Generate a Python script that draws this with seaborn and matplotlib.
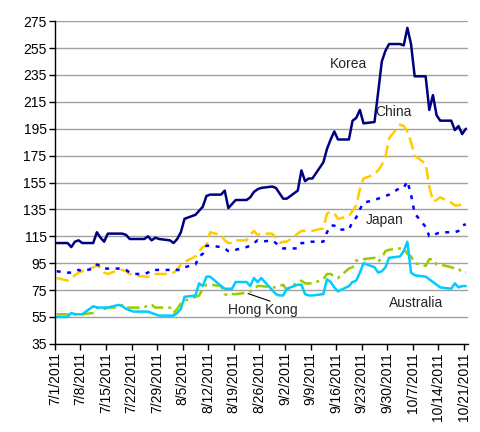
import numpy as np
import pandas as pd
import matplotlib
matplotlib.use("Agg")
import matplotlib.pyplot as plt
import seaborn as sns

# business days 7/1/2011 .. 10/21/2011, one row per week below
dates = pd.bdate_range("2011-07-01", "2011-10-21")
tick_dates = pd.date_range("2011-07-01", "2011-10-21", freq="7D")
tick_labels = [f"{d.month}/{d.day}/{d.year}" for d in tick_dates]

korea = [110,
         110, 107, 111, 112, 110,
         110, 118, 114, 111, 117,
         117, 117, 116, 113, 113,
         113, 115, 112, 114, 113,
         112, 110, 113, 118, 128,
         131, 134, 137, 145, 146,
         146, 149, 136, 139, 142,
         142, 144, 148, 150, 151,
         152, 151, 147, 143, 143,
         149, 164, 156, 158, 158,
         170, 180, 187, 193, 187,
         187, 201, 203, 209, 199,
         200, 222, 245, 253, 258,
         258, 257, 270, 258, 234,
         234, 209, 220, 205, 201,
         201, 194, 197, 191, 195]

china = [84,
         82, 84, 86, 88, 89,
         92, 93, 92, 88, 87,
         90, 90, 89, 87, 86,
         85, 85, 86, 87, 87,
         87, 88, 90, 94, 96,
         100, 104, 107, 108, 118,
         116, 112, 110, 110, 112,
         112, 116, 119, 116, 117,
         117, 114, 110, 111, 111,
         117, 119, 119, 119, 119,
         121, 132, 133, 132, 128,
         130, 134, 138, 150, 158,
         161, 164, 168, 174, 188,
         198, 197, 193, 185, 175,
         169, 152, 141, 142, 144,
         140, 138, 138, 139, 140]

japan = [89,
         88, 88, 89, 90, 89,
         91, 94, 93, 91, 91,
         91, 91, 90, 88, 87,
         87, 88, 90, 90, 90,
         90, 91, 90, 90, 92,
         94, 100, 102, 108, 108,
         107, 106, 104, 105, 105,
         107, 108, 110, 112, 111,
         112, 110, 107, 106, 106,
         106, 110, 110, 111, 111,
         111, 118, 123, 123, 120,
         120, 126, 129, 135, 140,
         142, 143, 144, 145, 146,
         151, 151, 156, 146, 132,
         122, 115, 115, 117, 118,
         118, 118, 119, 123, 124]

hong_kong = [57,
             57, 56, 57, 58, 57,
             58, 62, 61, 61, 62,
             62, 64, 62, 62, 62,
             62, 64, 64, 62, 62,
             62, 58, 61, 65, 67,
             70, 71, 76, 79, 79,
             78, 72, 71, 72, 72,
             73, 74, 76, 78, 78,
             77, 77, 78, 79, 75,
             81, 82, 80, 80, 80,
             83, 87, 87, 85, 84,
             91, 92, 97, 97, 98,
             99, 96, 99, 104, 105,
             106, 106, 102, 100, 95,
             93, 98, 98, 94, 94,
             92, 91, 91, 88, 88]

australia = [55,
             55, 58, 57, 57, 57,
             63, 62, 62, 62, 62,
             64, 63, 61, 60, 59,
             59, 59, 58, 57, 56,
             56, 56, 58, 61, 70,
             71, 80, 78, 85, 85,
             78, 76, 76, 76, 81,
             81, 78, 84, 81, 84,
             75, 72, 71, 71, 76,
             79, 79, 72, 71, 71,
             72, 83, 81, 77, 74,
             78, 81, 82, 88, 95,
             92, 88, 89, 92, 99,
             100, 104, 111, 88, 86,
             85, 83, 81, 79, 77,
             76, 80, 77, 78, 78]

markets = ["Korea", "China", "Japan", "Hong Kong", "Australia"]
colors = {"Korea": "#000080", "China": "#FFCC00", "Japan": "#0000FF",
          "Hong Kong": "#99CC00", "Australia": "#00CCFF"}
dash_map = {"Korea": "", "China": (5, 2.2), "Japan": (1.6, 2.6),
            "Hong Kong": (5, 2, 1.2, 2), "Australia": ""}

wide = pd.DataFrame({"date": dates, "Korea": korea, "China": china, "Japan": japan,
                     "Hong Kong": hong_kong, "Australia": australia})
df = wide.melt(id_vars="date", var_name="market", value_name="cds")
df["x"] = df["date"] + pd.Timedelta(hours=12)

sns.set_style("white")
plt.rcParams["font.family"] = ["Liberation Sans", "DejaVu Sans"]

fig, ax = plt.subplots(figsize=(4.81, 4.32), dpi=100)
sns.lineplot(data=df, x="x", y="cds", hue="market", style="market",
             hue_order=markets, style_order=markets, palette=colors,
             dashes=dash_map, lw=1.8, legend=False, ax=ax)

start = pd.Timestamp("2011-07-01")
ax.set_xlim(start, start + pd.Timedelta(days=113.1))
ax.set_ylim(35, 275)
ax.set_yticks(np.arange(35, 276, 20))
ax.set_xticks(tick_dates)
ax.set_xticklabels(tick_labels, rotation=90)
ax.set_xlabel("")
ax.set_ylabel("")
ax.yaxis.grid(True, color="#A0A0A0", lw=1)
ax.set_axisbelow(True)
ax.tick_params(axis="both", direction="out", length=4, width=1, colors="black",
               labelsize=10, bottom=True, left=True, pad=2)
sns.despine(ax=ax)
for s in ["left", "bottom"]:
    ax.spines[s].set_color("black")
    ax.spines[s].set_linewidth(1)

def at(day):
    return start + pd.Timedelta(days=day)

ax.text(at(80.3), 243.5, "Korea", ha="center", va="center", fontsize=10)
ax.text(at(92.6), 207.5, "China", ha="center", va="center", fontsize=10)
ax.text(at(90.4), 127, "Japan", ha="center", va="center", fontsize=10)
ax.text(at(98.9), 65.5, "Australia", ha="center", va="center", fontsize=10)
ax.text(at(57), 60.3, "Hong Kong", ha="center", va="center", fontsize=10)
ax.plot([at(52.9), at(58.9)], [72.4, 66.8], color="black", lw=0.8)

plt.subplots_adjust(left=0.114, right=0.973, top=0.951, bottom=0.204)
fig.savefig("out.png", dpi=100)
